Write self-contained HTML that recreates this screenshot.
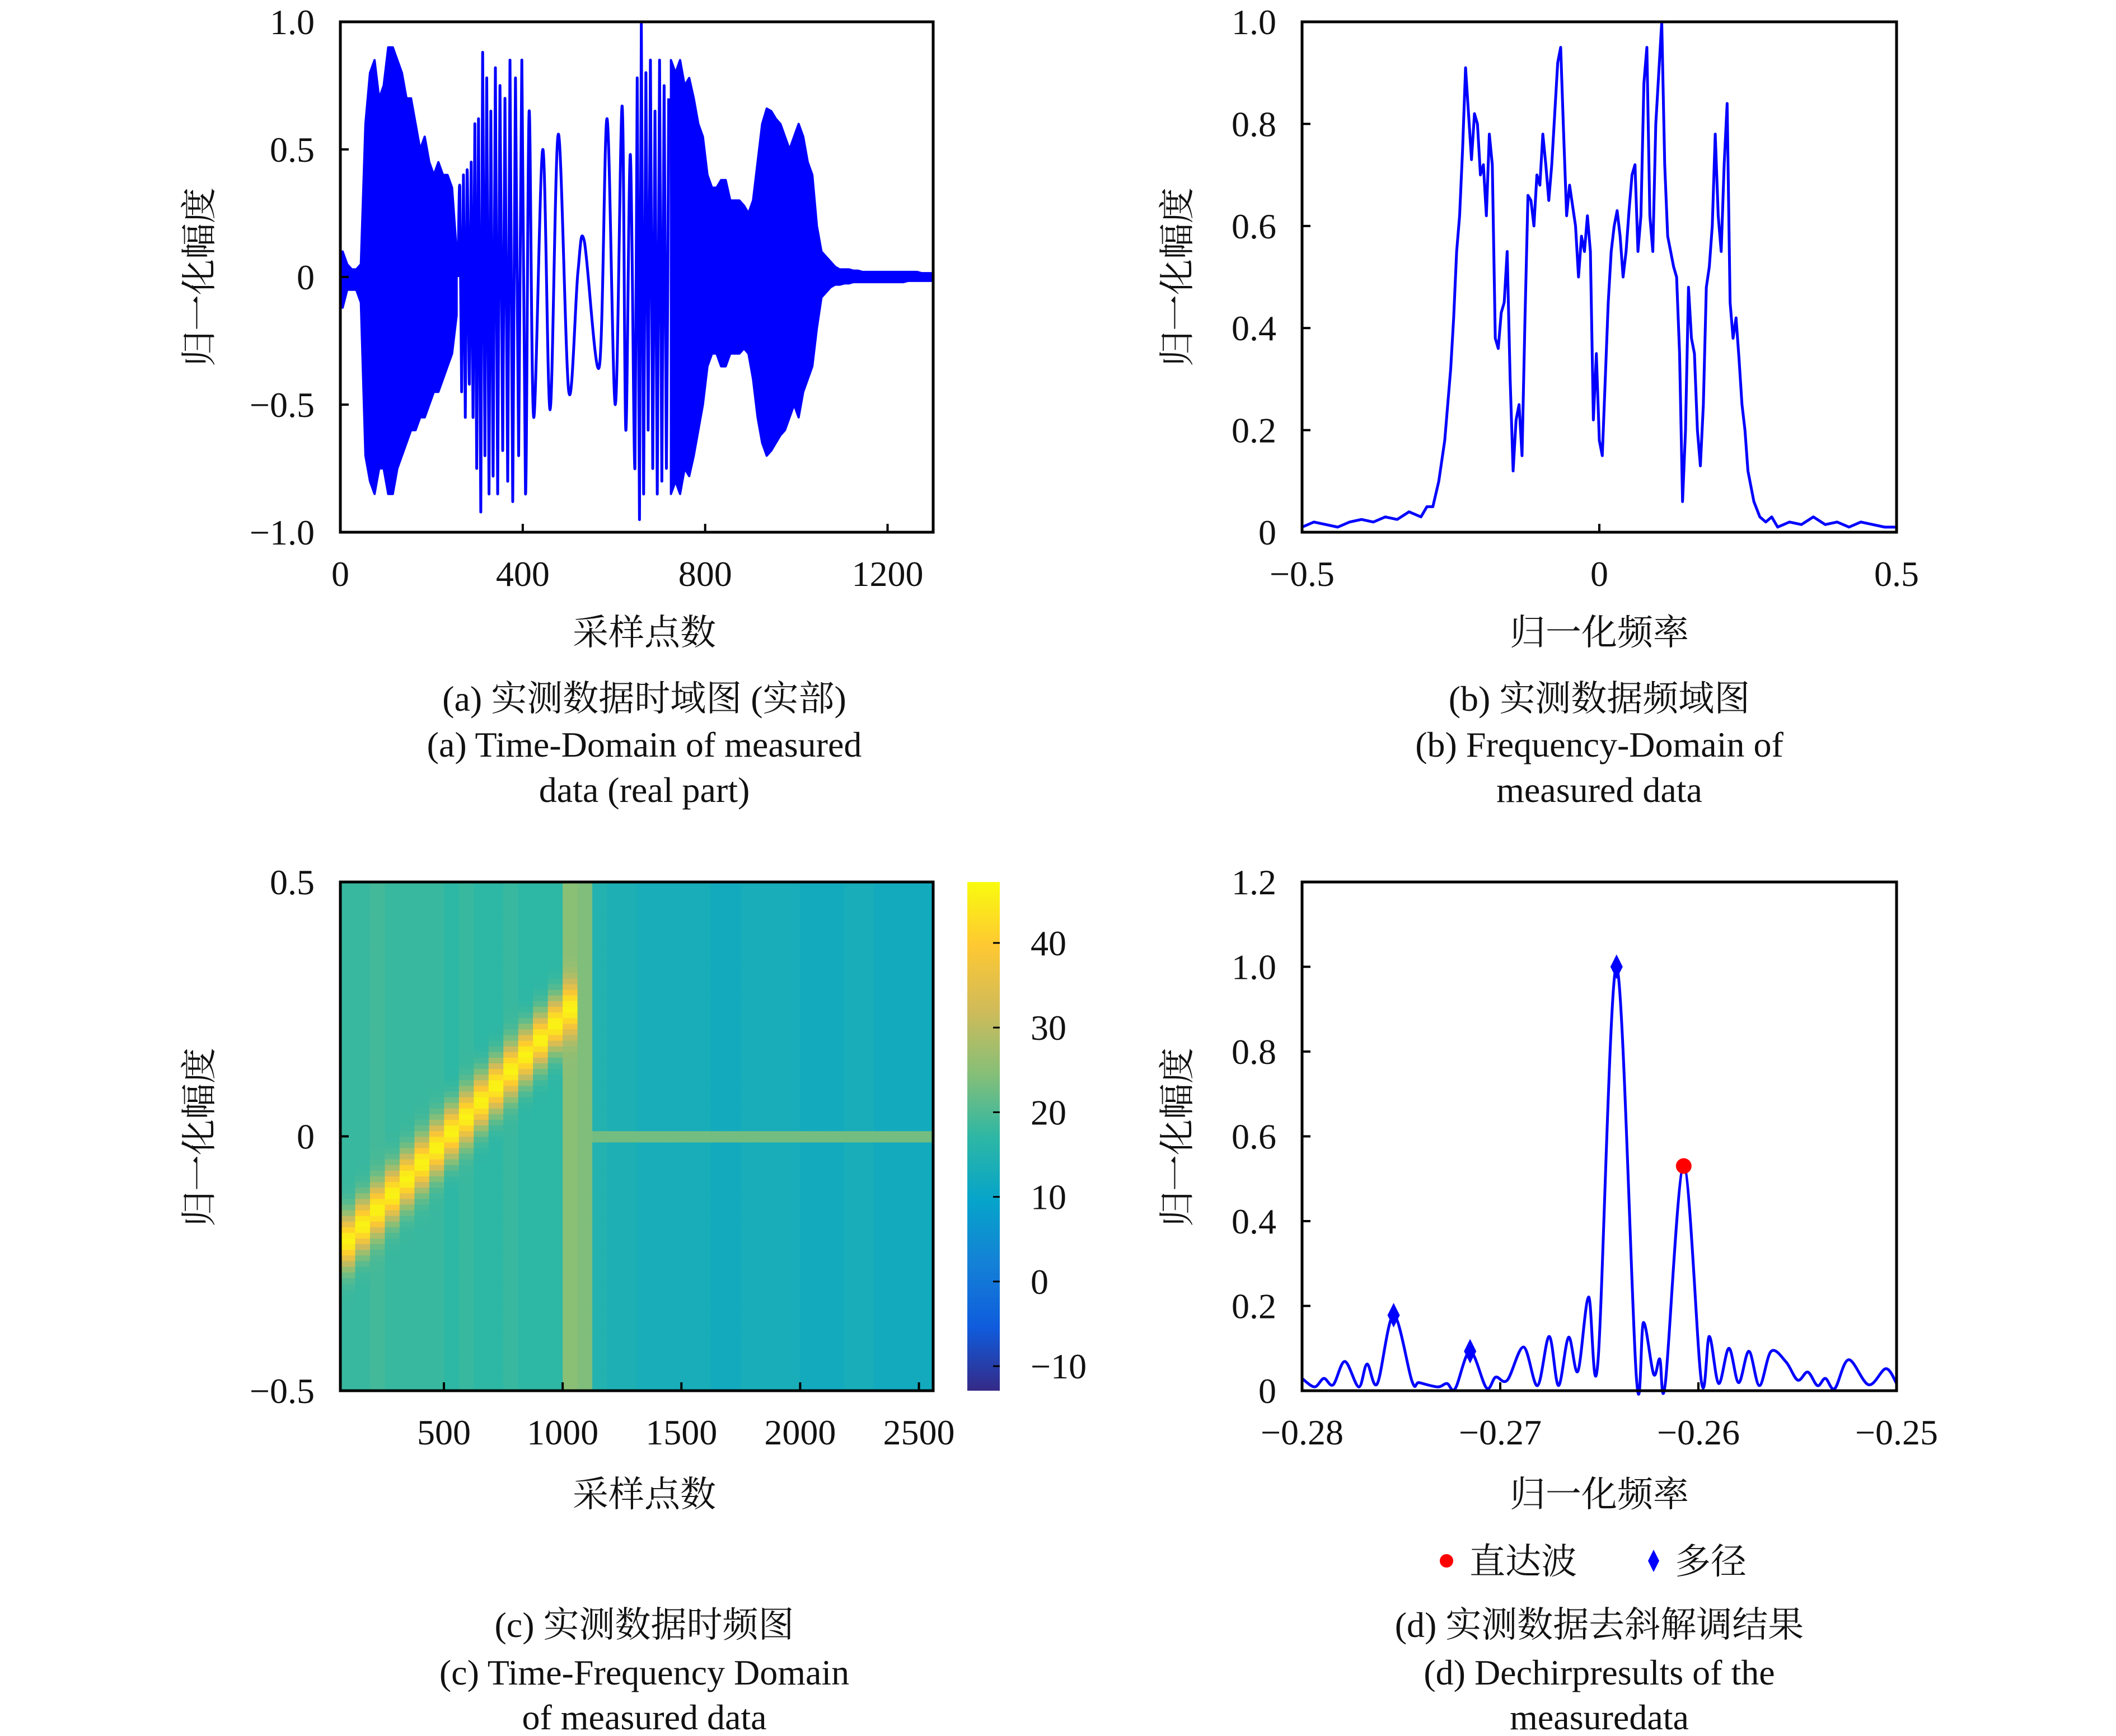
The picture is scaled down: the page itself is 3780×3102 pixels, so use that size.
<!DOCTYPE html>
<html><head><meta charset="utf-8"><style>
html,body{margin:0;padding:0;background:#fff;}
svg{display:block;}
text{font-family:"Liberation Serif","Noto Serif CJK SC",serif;fill:#111;}
.cjk{font-family:"Liberation Serif","Noto Serif CJK SC","Noto Sans CJK SC",serif;}
</style></head><body>
<svg id="fig" xmlns="http://www.w3.org/2000/svg" width="3780" height="3102" viewBox="0 0 3780 3102">
<defs>
<linearGradient id="parula" x1="0" y1="1" x2="0" y2="0">
<stop offset="0" stop-color="#352a87"/><stop offset="0.125" stop-color="#0f5cdd"/><stop offset="0.25" stop-color="#1481d6"/><stop offset="0.375" stop-color="#06a4ca"/><stop offset="0.5" stop-color="#2eb7a4"/><stop offset="0.625" stop-color="#87bf77"/><stop offset="0.75" stop-color="#d1bb59"/><stop offset="0.875" stop-color="#fec832"/><stop offset="1" stop-color="#f9fb0e"/>
</linearGradient>
</defs>
<g id="layer"></g>
</svg>
<script>
// ---------- DATA ----------
const aEnvStartA = 0;
const aEnvUpperA = [0.1,0.05,0.03,0.03,0.05,0.6,0.8,0.85,0.7,0.75,0.9,0.9,0.85,0.8,0.7,0.7,0.6,0.5,0.55,0.45,0.4,0.45,0.4,0.4,0.35,0.1];
const aEnvLowerA = [-0.12,-0.05,-0.05,-0.05,-0.1,-0.7,-0.8,-0.85,-0.75,-0.75,-0.85,-0.85,-0.75,-0.7,-0.65,-0.6,-0.6,-0.55,-0.55,-0.5,-0.45,-0.45,-0.4,-0.35,-0.3,-0.15];
const aEnvStartB = 720;
const aEnvUpperB = [0.85,0.8,0.85,0.75,0.78,0.7,0.6,0.55,0.4,0.35,0.35,0.38,0.38,0.3,0.3,0.3,0.28,0.25,0.3,0.45,0.6,0.66,0.65,0.62,0.6,0.55,0.5,0.55,0.6,0.55,0.45,0.4,0.2,0.1,0.08,0.06,0.04,0.03,0.03,0.03,0.025,0.025,0.02,0.02,0.02,0.02,0.02,0.02,0.02,0.02,0.02,0.02,0.02,0.02,0.02,0.015,0.015,0.015];
const aEnvLowerB = [-0.85,-0.8,-0.85,-0.75,-0.78,-0.7,-0.6,-0.5,-0.35,-0.3,-0.3,-0.35,-0.35,-0.3,-0.3,-0.3,-0.28,-0.3,-0.4,-0.55,-0.65,-0.7,-0.68,-0.65,-0.62,-0.6,-0.55,-0.5,-0.55,-0.45,-0.4,-0.35,-0.2,-0.08,-0.06,-0.04,-0.03,-0.03,-0.025,-0.025,-0.02,-0.02,-0.02,-0.02,-0.02,-0.02,-0.02,-0.02,-0.02,-0.02,-0.02,-0.02,-0.015,-0.015,-0.015,-0.015,-0.015,-0.015];
const aExtSample = [258,262,266,270,274,278,283,287,291,295,299,303,308,312,317,321,326,330,335,340,345,350,356,361,367,372,378,384,391,398,406,414,424,444,460,478,501,521,535,568,585,603,618,626,636,646,651,656,660,665,670,675,680,685,690,695,700,705,710,715,720];
const aExtValue = [0,0.35,-0.45,0.4,-0.55,0.42,-0.42,0.45,-0.55,0.6,-0.75,0.62,-0.92,0.88,-0.7,0.78,-0.85,0.65,-0.78,0.82,-0.85,0.75,-0.68,0.7,-0.8,0.85,-0.88,0.78,-0.7,0.85,-0.85,0.65,-0.55,0.5,-0.52,0.56,-0.45,0.02,0.14,-0.35,0.62,-0.5,0.67,-0.6,0.48,-0.75,0.78,-0.95,1.0,-0.85,0.8,-0.6,0.85,-0.75,0.65,-0.85,0.85,-0.8,0.75,-0.75,0.7];
const aXTicks = [0,400,800,1200];
const aYTicks = [1.0,0.5,0,-0.5,-1.0];
const aYTickLabels = ["1.0","0.5","0","\u22120.5","\u22121.0"];
const bSpectrum = [[-0.5,0.01],[-0.48,0.02],[-0.46,0.015],[-0.44,0.01],[-0.42,0.02],[-0.40,0.025],[-0.38,0.02],[-0.36,0.03],[-0.34,0.025],[-0.32,0.04],[-0.30,0.03],[-0.29,0.05],[-0.28,0.05],[-0.27,0.1],[-0.26,0.18],[-0.25,0.32],[-0.245,0.42],[-0.24,0.55],[-0.235,0.62],[-0.23,0.75],[-0.225,0.91],[-0.22,0.82],[-0.215,0.73],[-0.21,0.82],[-0.205,0.8],[-0.2,0.7],[-0.195,0.72],[-0.19,0.62],[-0.185,0.78],[-0.18,0.72],[-0.175,0.38],[-0.17,0.36],[-0.165,0.43],[-0.16,0.45],[-0.155,0.55],[-0.15,0.3],[-0.145,0.12],[-0.14,0.22],[-0.135,0.25],[-0.13,0.15],[-0.125,0.42],[-0.12,0.66],[-0.115,0.65],[-0.11,0.6],[-0.105,0.7],[-0.1,0.68],[-0.095,0.78],[-0.09,0.72],[-0.085,0.65],[-0.08,0.72],[-0.075,0.82],[-0.07,0.92],[-0.065,0.95],[-0.06,0.78],[-0.055,0.62],[-0.05,0.68],[-0.045,0.64],[-0.04,0.6],[-0.035,0.5],[-0.03,0.58],[-0.025,0.55],[-0.02,0.62],[-0.015,0.55],[-0.01,0.22],[-0.005,0.35],[0,0.18],[0.005,0.15],[0.01,0.3],[0.015,0.45],[0.02,0.55],[0.025,0.6],[0.03,0.63],[0.035,0.58],[0.04,0.5],[0.045,0.55],[0.05,0.63],[0.055,0.7],[0.06,0.72],[0.065,0.55],[0.07,0.62],[0.075,0.88],[0.08,0.95],[0.085,0.62],[0.09,0.55],[0.095,0.8],[0.1,0.9],[0.105,1.0],[0.11,0.72],[0.115,0.58],[0.12,0.55],[0.125,0.52],[0.13,0.5],[0.135,0.35],[0.14,0.06],[0.145,0.2],[0.15,0.48],[0.155,0.38],[0.16,0.35],[0.165,0.2],[0.17,0.13],[0.175,0.25],[0.18,0.48],[0.185,0.52],[0.19,0.6],[0.195,0.78],[0.2,0.62],[0.205,0.55],[0.21,0.72],[0.215,0.84],[0.22,0.45],[0.225,0.38],[0.23,0.42],[0.235,0.34],[0.24,0.25],[0.245,0.2],[0.25,0.12],[0.26,0.06],[0.27,0.03],[0.28,0.02],[0.29,0.03],[0.3,0.01],[0.32,0.02],[0.34,0.015],[0.36,0.03],[0.38,0.015],[0.4,0.02],[0.42,0.01],[0.44,0.02],[0.46,0.015],[0.48,0.01],[0.5,0.01]];
const bXTicks = [-0.5,0,0.5];
const bXTickLabels = ["\u22120.5","0","0.5"];
const bYTicks = [0,0.2,0.4,0.6,0.8,1.0];
const bYTickLabels = ["0","0.2","0.4","0.6","0.8","1.0"];
const cTimeRange = [64,2560];
const cBackground = [18,18,19,18,18,18,18,17,18,17,17,18,17,17,17,25,24,15,14,14,13,13,13,13,13,12,12,13,13,13,13,12,12,12,13,13,12,12,12,12];
const cRidgeTime = [64,1070];
const cRidgeFreq = [-0.22,0.27];
const cRidgePeak = [46];
const cZeroLineLevel = [23];
const cXTicks = [500,1000,1500,2000,2500];
const cYTicks = [0.5,0,-0.5];
const cYTickLabels = ["0.5","0","\u22120.5"];
const cbRange = [-12.9,47.2];
const cbTicks = [40,30,20,10,0,-10];
const cbTickLabels = ["40","30","20","10","0","\u221210"];
const dFreq = [-0.28,-0.27937,-0.2789,-0.27843,-0.27784,-0.27714,-0.27672,-0.2762,-0.27538,-0.27445,-0.27409,-0.27316,-0.27269,-0.27227,-0.27152,-0.2707,-0.27023,-0.26964,-0.26882,-0.26812,-0.26753,-0.26706,-0.26655,-0.26608,-0.26554,-0.26507,-0.26413,-0.26313,-0.26277,-0.26226,-0.26195,-0.26167,-0.26074,-0.25985,-0.25945,-0.25898,-0.25846,-0.25797,-0.25745,-0.25692,-0.25633,-0.25558,-0.25499,-0.25448,-0.25399,-0.25359,-0.25312,-0.25242,-0.25141,-0.25054,-0.25];
const dAmp = [0.029,0.009,0.029,0.014,0.069,0.009,0.063,0.017,0.178,0.022,0.019,0.009,0.017,0.005,0.093,0.007,0.032,0.025,0.103,0.012,0.128,0.012,0.126,0.046,0.221,0.068,1.0,0.032,0.161,0.039,0.075,0.017,0.53,0.022,0.128,0.017,0.1,0.019,0.093,0.012,0.093,0.068,0.025,0.044,0.012,0.029,0.005,0.073,0.014,0.052,0.017];
const dMultipathFreq = [-0.27538,-0.27152,-0.26413];
const dMultipathAmp = [0.178,0.093,1.0];
const dDirectFreq = [-0.26074];
const dDirectAmp = [0.53];
const dXTicks = [-0.28,-0.27,-0.26,-0.25];
const dXTickLabels = ["\u22120.28","\u22120.27","\u22120.26","\u22120.25"];
const dYTicks = [0,0.2,0.4,0.6,0.8,1.0,1.2];
const dYTickLabels = ["0","0.2","0.4","0.6","0.8","1.0","1.2"];

// ---------- HELPERS ----------
const NS="http://www.w3.org/2000/svg";
const root=document.getElementById('layer');
function mk(tag,attrs,parent){const e=document.createElementNS(NS,tag);for(const k in attrs)e.setAttribute(k,attrs[k]);(parent||root).appendChild(e);return e;}
function lin(d0,d1,r0,r1){return v=>r0+(v-d0)/(d1-d0)*(r1-r0);}
function txt(x,y,s,size,anchor,parent,cls){const t=mk('text',{x:x,y:y,'font-size':size,'text-anchor':anchor||'middle'},parent);if(cls)t.setAttribute('class',cls);t.textContent=s;return t;}
const FS=64, BLUE="#0000ff";
const LX0=608, LX1=1667, RX0=2326, RX1=3388, TY0=39, TY1=951, BY0=1576, BY1=2485;

function frame(g,x0,x1,y0,y1){
  const r=mk('rect',{x:x0,y:y0,width:x1-x0,height:y1-y0,fill:'none',stroke:'#000','stroke-width':5},g);
  
  
}
function xticks(g,ticks,labels,sx,y1){
  ticks.forEach((t,i)=>{
    mk('line',{x1:sx(t),x2:sx(t),y1:y1,y2:y1-15,stroke:'#000','stroke-width':4},g);
    const l=txt(sx(t),y1+96,labels[i],FS,'middle',g);
    
    
  });
}
function yticks(g,ticks,labels,sy,x0){
  ticks.forEach((t,i)=>{
    mk('line',{x1:x0,x2:x0+15,y1:sy(t),y2:sy(t),stroke:'#000','stroke-width':4},g);
    const l=txt(x0-46,sy(t)+22,labels[i],FS,'end',g);
    
    
  });
}
function ytitle(g,x,y,s){
  const t=mk('text',{x:0,y:0,'font-size':FS,'text-anchor':'middle',transform:`translate(${x},${y}) rotate(-90)`,class:'cjk'},g);
  t.textContent=s;
  
  
}
function xtitle(g,x,y,s){
  const t=txt(x,y,s,FS,'middle',g,'cjk');
  
  
}
function caption(g,x,lines,ys,name){
  const c=mk('g',{},g);
  
  
  lines.forEach((s,i)=>txt(x,ys[i],s,FS,'middle',c,'cjk'));
}
function smoothPath(pts){
  let d=`M${pts[0][0]},${pts[0][1]}`;
  for(let i=0;i<pts.length-1;i++){
    const p0=pts[Math.max(0,i-1)],p1=pts[i],p2=pts[i+1],p3=pts[Math.min(pts.length-1,i+2)];
    const c1=[p1[0]+(p2[0]-p0[0])/6,p1[1]+(p2[1]-p0[1])/6];
    const c2=[p2[0]-(p3[0]-p1[0])/6,p2[1]-(p3[1]-p1[1])/6];
    d+=` C${c1[0]},${c1[1]} ${c2[0]},${c2[1]} ${p2[0]},${p2[1]}`;
  }
  return d;
}

// ---------- PANEL A ----------
(function(){
  const g=mk('g',{});
  
  
  const x0=LX0,x1=LX1,y0=TY0,y1=TY1;
  const sx=lin(0,1300,x0,x1), sy=lin(-1,1,y1,y0);
  function env(start,up,lo){
    const top=up.map((v,i)=>`${sx(start+i*10+5)},${sy(v)}`);
    const bot=lo.map((v,i)=>`${sx(start+i*10+5)},${sy(v)}`).reverse();
    const p=mk('polygon',{points:top.concat(bot).join(' '),fill:BLUE,stroke:BLUE,'stroke-width':4,'stroke-linejoin':'round'},g);
    
    
  }
  env(aEnvStartA,aEnvUpperA,aEnvLowerA);
  env(aEnvStartB,aEnvUpperB,aEnvLowerB);
  const pts=aExtSample.map((s,i)=>[sx(s),sy(aExtValue[i])]);
  const l=mk('path',{d:smoothPath(pts),fill:'none',stroke:BLUE,'stroke-width':5},g);
  
  
  frame(g,x0,x1,y0,y1);
  xticks(g,aXTicks,aXTicks.map(String),sx,y1);
  yticks(g,aYTicks,aYTickLabels,sy,x0);
  ytitle(g,378,495,'归一化幅度');
  xtitle(g,1151,1152,'采样点数');
  caption(g,1151,['(a) 实测数据时域图 (实部)','(a) Time-Domain of measured','data (real part)'],[1270,1352,1433],'caption-a');
})();

// ---------- PANEL B ----------
(function(){
  const g=mk('g',{});
  
  
  const x0=RX0,x1=RX1,y0=TY0,y1=TY1;
  const sx=lin(-0.5,0.5,x0,x1), sy=lin(0,1,y1,y0);
  const p=mk('polyline',{points:bSpectrum.map(d=>`${sx(d[0])},${sy(d[1])}`).join(' '),fill:'none',stroke:BLUE,'stroke-width':5,'stroke-linejoin':'round'},g);
  
  
  frame(g,x0,x1,y0,y1);
  xticks(g,bXTicks,bXTickLabels,sx,y1);
  yticks(g,bYTicks,bYTickLabels,sy,x0);
  ytitle(g,2125,495,'归一化幅度');
  xtitle(g,2857,1152,'归一化频率');
  caption(g,2857,['(b) 实测数据频域图','(b) Frequency-Domain of','measured data'],[1270,1352,1433],'caption-b');
})();

// ---------- PANEL C ----------
const PARULA=[[0,[53,42,135]],[0.125,[15,92,221]],[0.25,[20,129,214]],[0.375,[6,164,202]],[0.5,[46,183,164]],[0.625,[135,191,119]],[0.75,[209,187,89]],[0.875,[254,200,50]],[1,[249,251,14]]];
function parula(t){t=Math.max(0,Math.min(1,t));for(let i=0;i<PARULA.length-1;i++){const a=PARULA[i],b=PARULA[i+1];if(t<=b[0]){const f=(t-a[0])/(b[0]-a[0]);const c=a[1].map((v,k)=>Math.round(v+(b[1][k]-v)*f));return `rgb(${c})`;}}return 'rgb(249,251,14)';}
(function(){
  const g=mk('g',{});
  
  
  const x0=LX0,x1=LX1,y0=BY0,y1=BY1;
  const sx=lin(cTimeRange[0],cTimeRange[1],x0,x1), sy=lin(-0.5,0.5,y1,y0);
  const cells=mk('g',{},g);
  
  
  const nT=cBackground.length, nF=90;
  const dt=(cTimeRange[1]-cTimeRange[0])/nT;
  for(let i=0;i<nT;i++){
    const t=cTimeRange[0]+(i+0.5)*dt;
    for(let j=0;j<nF;j++){
      const f=-0.5+(j+0.5)/nF;
      let v=cBackground[i];
      if(t<=cRidgeTime[1]){
        const fc=cRidgeFreq[0]+(t-cRidgeTime[0])/(cRidgeTime[1]-cRidgeTime[0])*(cRidgeFreq[1]-cRidgeFreq[0]);
        v=Math.max(v,v+(cRidgePeak[0]-v)*Math.exp(-Math.pow((f-fc)/0.05,2)));
      } else if(Math.abs(f)<0.008){ v=Math.max(v,cZeroLineLevel[0]); }
      const tt=(v-cbRange[0])/(cbRange[1]-cbRange[0]);
      const r=mk('rect',{x:sx(t-dt/2),y:sy(f+0.5/nF),width:sx(t+dt/2)-sx(t-dt/2)+0.8,height:sy(f-0.5/nF)-sy(f+0.5/nF)+0.8,fill:parula(tt)},cells);
      
      
    }
  }
  frame(g,x0,x1,y0,y1);
  xticks(g,cXTicks,cXTicks.map(String),sx,y1);
  yticks(g,cYTicks,cYTickLabels,sy,x0);
  ytitle(g,378,2032,'归一化幅度');
  xtitle(g,1151,2692,'采样点数');
  caption(g,1151,['(c) 实测数据时频图','(c) Time-Frequency Domain','of measured data'],[2925,3010,3090],'caption-c');
  const cb=mk('g',{},g);
  
  
  const cy=lin(cbRange[0],cbRange[1],y1,y0);
  mk('rect',{x:1728,y:y0,width:58,height:y1-y0,fill:'url(#parula)'},cb);
  cbTicks.forEach((t,i)=>{
    mk('line',{x1:1774,x2:1786,y1:cy(t),y2:cy(t),stroke:'#000','stroke-width':3},cb);
    const l=txt(1841,cy(t)+22,cbTickLabels[i],FS,'start',cb);
    
    
  });
})();

// ---------- PANEL D ----------
(function(){
  const g=mk('g',{});
  
  
  const x0=RX0,x1=RX1,y0=BY0,y1=BY1;
  const sx=lin(-0.28,-0.25,x0,x1), sy=lin(0,1.2,y1,y0);
  const pts=dFreq.map((f,i)=>[sx(f),sy(dAmp[i])]);
  const l=mk('path',{d:smoothPath(pts),fill:'none',stroke:BLUE,'stroke-width':5},g);
  
  
  dMultipathFreq.forEach((f,i)=>{
    const x=sx(f),y=sy(dMultipathAmp[i]);
    const m=mk('polygon',{points:`${x},${y-22} ${x+11},${y} ${x},${y+22} ${x-11},${y}`,fill:BLUE},g);
    
    
  });
  dDirectFreq.forEach((f,i)=>{
    const m=mk('circle',{cx:sx(f),cy:sy(dDirectAmp[i]),r:14,fill:'#ff0000'},g);
    
    
  });
  frame(g,x0,x1,y0,y1);
  xticks(g,dXTicks,dXTickLabels,sx,y1);
  yticks(g,dYTicks,dYTickLabels,sy,x0);
  ytitle(g,2125,2032,'归一化幅度');
  xtitle(g,2857,2692,'归一化频率');
  const lg=mk('g',{},g);
  
  
  const e1=mk('g',{},lg);
  
  
  mk('circle',{cx:2584,cy:2789,r:12,fill:'#ff0000'},e1);
  txt(2625,2812,'直达波',FS,'start',e1,'cjk');
  const e2=mk('g',{},lg);
  
  
  mk('polygon',{points:'2954,2769 2964,2789 2954,2809 2944,2789',fill:BLUE},e2);
  txt(2992,2812,'多径',FS,'start',e2,'cjk');
  caption(g,2857,['(d) 实测数据去斜解调结果','(d) Dechirpresults of the','measuredata'],[2925,3010,3090],'caption-d');
})();
</script>
</body></html>
